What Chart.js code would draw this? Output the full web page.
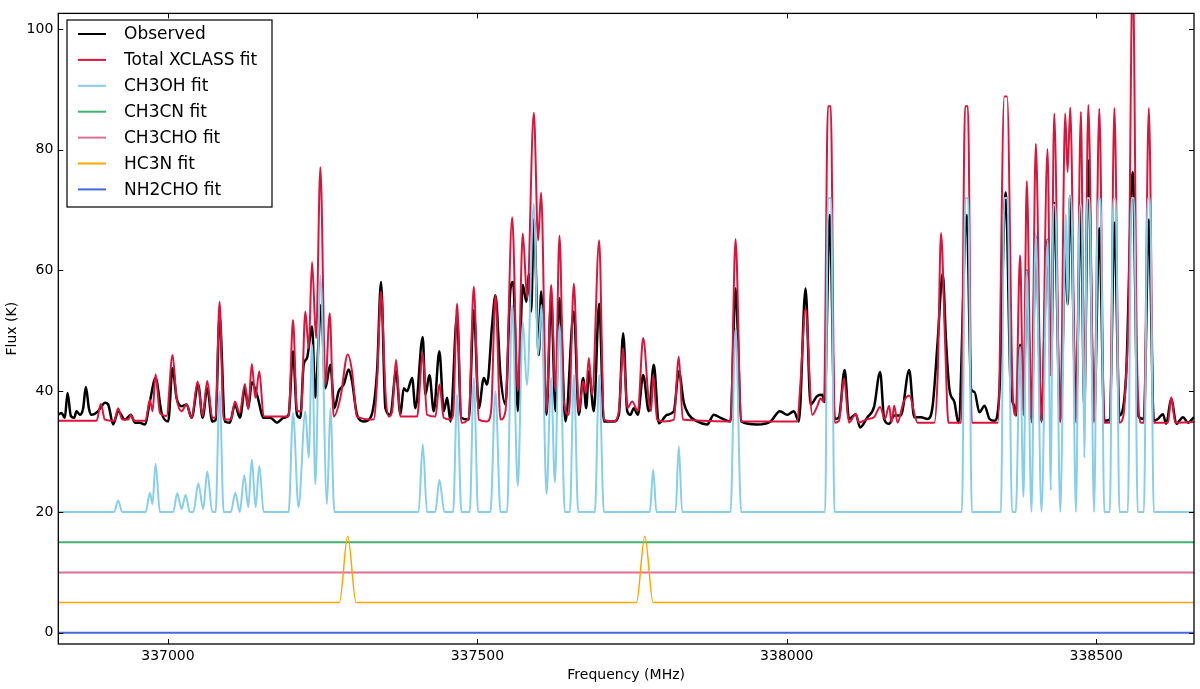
<!DOCTYPE html>
<html>
<head>
<meta charset="utf-8">
<title>XCLASS fit</title>
<script src="https://cdn.jsdelivr.net/npm/chart.js@4.4.0/dist/chart.umd.min.js"></script>
<style>
  html, body { margin: 0; padding: 0; background: #fff; }
  #wrap { width: 1200px; height: 689px; }
</style>
</head>
<body>
<div id="wrap"><canvas id="spectrum"></canvas></div>
<script>
// axis ticks and ranges
const xTicks = [337000, 337500, 338000, 338500];
const yTicks = [0, 20, 40, 60, 80, 100];
const xMin = 336822.8, xMax = 338658;
const yMin = -1.86, yMax = 102.57;

const seriesNames = ['Observed', 'Total XCLASS fit', 'CH3OH fit', 'CH3CN fit', 'CH3CHO fit', 'HC3N fit', 'NH2CHO fit'];
const seriesColors = ['#000000', '#dc143c', '#87ceeb', '#3cb371', '#db7093', '#ffa500', '#4169e1'];

// [frequency MHz, flux K]
const observedSpec = [
  [336822.8,36.1],[336828,36.4],[336833.4,35.6],[336837.7,39.7],[336843.1,35.9],[336848.5,35.6],[336852.2,36.7],[336857.6,36.1],
  [336863,37.2],[336867.3,40.7],[336872.2,37.2],[336876.5,36.1],[336887.3,36.7],[336892.7,37.5],[336898,38.1],[336903.4,37.8],
  [336911.5,34.5],[336919.6,36.7],[336930.4,35.3],[336940.1,36.1],[336946.6,34.8],[336954.6,34.8],[336962.7,34.5],[336970.8,38.3],
  [336980,42.2],[336989.7,36.4],[337000.4,35.0],[337007.4,43.8],[337013.9,38.9],[337022,37.5],[337030.1,37.8],[337038.2,35.6],
  [337048.9,41.1],[337056,35.6],[337063.5,40.5],[337071.6,35.0],[337077,35.2],[337083.4,52.6],[337092,35.0],[337100.1,34.8],
  [337108.2,37.8],[337116.3,35.6],[337124.4,40.5],[337129.8,37.2],[337135.5,41.5],[337143.9,39.4],[337154.7,35.6],[337165.4,35.6],
  [337176.2,34.8],[337187,35.6],[337195,36.1],[337202.1,46.6],[337208.5,36.1],[337213.9,35.6],[337219.3,44.4],[337224.7,45.5],
  [337232.8,50.7],[337238.2,38.9],[337243.6,48.8],[337247.3,54.3],[337254.4,40.5],[337262.4,44.4],[337268.9,37.2],[337275.9,40.0],
  [337284,41.1],[337292.1,43.6],[337297.5,41.6],[337305.5,36.1],[337316.3,35.0],[337327.1,35.6],[337337.9,43.3],[337344.3,58.1],
  [337351.4,37.2],[337359.4,36.1],[337368.6,43.3],[337375.6,36.1],[337381,40.5],[337386.4,40.0],[337394.5,42.2],[337399.9,37.2],
  [337411.7,49.0],[337416,39.4],[337422.5,42.7],[337429.5,36.7],[337438.6,46.6],[337445.7,36.7],[337451.1,38.9],[337456.5,35.0],
  [337467.2,52.6],[337473.7,35.6],[337486.1,35.3],[337494.2,53.4],[337502.3,37.2],[337510.4,42.2],[337515.7,41.1],[337523.8,51.0],
  [337529.2,55.9],[337537.3,42.7],[337545.4,37.8],[337553.5,57.0],[337557.8,58.1],[337565.3,36.7],[337573.4,57.6],[337579.3,54.8],
  [337583.1,59.5],[337586.9,53.2],[337591.2,68.5],[337599.3,46.0],[337603,56.5],[337611.7,36.1],[337619.2,55.4],[337626.2,36.7],
  [337632.7,55.4],[337642.4,35.0],[337655.9,53.2],[337663.9,36.1],[337670.9,42.2],[337675.8,37.2],[337680.1,43.3],[337688.2,36.7],
  [337696.8,54.5],[337704.4,35.0],[337720.5,35.0],[337728.6,36.1],[337735.6,49.6],[337742.1,36.7],[337747.4,36.1],[337752.8,37.2],
  [337759.3,36.1],[337767.9,42.7],[337777,36.7],[337785.1,44.4],[337793.2,34.7],[337806.7,36.1],[337817.5,36.7],[337825.5,43.3],
  [337833.6,38.1],[337841.7,36.1],[337855.2,35.0],[337871.3,34.5],[337882.1,36.1],[337892.9,35.6],[337909,35.0],[337917.2,57.0],
  [337926.3,35.0],[337952.2,34.5],[337973.7,35.0],[337988.8,36.7],[338000.7,36.1],[338011.5,36.7],[338019.5,35.0],[338030.3,57.0],
  [338038.4,37.8],[338049.2,39.2],[338057.3,39.4],[338061,38.2],[338069.5,69.2],[338077.3,35.4],[338084.3,35.7],[338093.5,43.5],
  [338100.5,35.4],[338111.4,36.2],[338118.4,34.0],[338130.3,35.7],[338141,37.4],[338150.8,43.2],[338157.3,35.4],[338165.4,34.6],
  [338173.5,36.0],[338184.3,36.0],[338197.8,43.5],[338205.9,35.7],[338216.8,35.7],[338227.6,35.4],[338235.7,37.6],[338243.8,48.3],
  [338251.9,59.5],[338257.3,48.3],[338262.7,40.4],[338270.8,38.2],[338277.3,34.8],[338290.8,69.2],[338297.8,40.4],[338303.2,39.9],
  [338311.3,36.5],[338319.5,37.6],[338327.6,35.4],[338335.7,35.1],[338343.8,40.4],[338353.7,72.9],[338361.8,40.4],[338367.2,37.6],
  [338370.5,36.0],[338377,47.7],[338382.4,37.1],[338387.8,60.0],[338395.3,35.4],[338402.4,65.6],[338411.5,35.1],[338421.3,65.1],
  [338426.7,42.7],[338432.1,71.2],[338441.8,35.1],[338451,63.9],[338453.7,54.4],[338458,72.3],[338467.2,37.6],[338475.3,70.6],
  [338480.7,37.6],[338487.2,78.2],[338496.5,35.1],[338505,67.0],[338513,35.1],[338522,35.3],[338529.4,67.9],[338537.5,36.0],
  [338548.3,42.7],[338559.1,76.3],[338567,36.0],[338577,35.4],[338585,68.4],[338593,35.1],[338599.6,35.4],[338607.7,36.2],
  [338613.1,34.6],[338621.3,38.8],[338629.4,34.6],[338640.2,35.7],[338648.3,34.8],[338658,35.7]
];

const totalFit = [
  [336822.8,35.1],[336884.6,35.1],[336891.6,37.9],[336898,35.3],[336913,35.1],[336919.6,37.2],[336926,35.3],[336935.8,35.3],
  [336940.1,36.1],[336945.5,35.1],[336963.8,35.1],[336970.8,38.6],[336975.1,36.7],[336980,42.8],[336987,36.4],[336997.7,35.9],
  [337007.4,46.0],[337013.9,38.9],[337022,36.7],[337030.1,37.8],[337038.2,35.6],[337047.9,41.6],[337056,35.9],[337063.5,41.7],
  [337071.6,35.6],[337077,35.6],[337083.4,54.8],[337089.9,35.3],[337101.8,35.3],[337108.2,38.3],[337115.8,36.4],[337124.4,41.2],
  [337129.8,37.0],[337135.5,44.5],[337141.2,38.9],[337147.6,43.3],[337154.7,35.8],[337195,35.8],[337202.1,51.8],[337208.5,36.7],
  [337215,36.7],[337222,53.2],[337227.4,47.1],[337232.8,61.4],[337239.3,48.8],[337246.3,77.1],[337254.4,41],[337261.4,52.9],
  [337267.8,35.8],[337278.6,38.9],[337290.5,46.1],[337297.5,43.3],[337305.5,35.8],[337332.5,35.3],[337337.9,41.6],[337344.3,56.5],
  [337351.4,40.0],[337356.7,35.8],[337362.1,36.6],[337368.6,45.2],[337375.6,35.8],[337402.6,35.8],[337411.7,46.3],[337418.7,36.1],
  [337432.2,35.8],[337438.6,41.1],[337445.7,35.6],[337456.5,35.3],[337460.8,36.1],[337467.2,54.5],[337474.2,34.8],[337486.1,35.6],
  [337494.2,57.3],[337502.3,35.3],[337515.7,35.0],[337522.2,36.7],[337529.2,55.9],[337537.3,35.3],[337545.4,36.7],[337556.2,68.8],
  [337565.3,40.0],[337573.4,66.1],[337580.4,55.4],[337591.2,86.1],[337598.2,65.0],[337603,72.9],[337611.7,36.7],[337619.2,57.6],
  [337626.2,40.0],[337632.7,65.8],[337639.7,38.3],[337647.8,36.1],[337655.9,57.8],[337663.9,36.7],[337670.9,41.6],[337675.3,39.7],
  [337680.1,45.5],[337685.5,39.4],[337696.8,65.0],[337704.4,35.3],[337720.5,35.0],[337728.6,36.7],[337735.6,47.1],[337742.1,37.2],
  [337750.2,38.3],[337759.3,36.7],[337767.9,48.8],[337777,38.3],[337780.8,36.7],[337784,42.7],[337790.5,35.3],[337801.3,35.0],
  [337817.5,35.3],[337825.5,45.7],[337832,35.3],[337909,35.0],[337917.2,65.2],[337926.3,35.0],[338016.9,35.0],[338022.2,41.6],
  [338030.3,53.7],[338041.1,36.1],[338049.2,37.5],[338054.6,38.8],[338060,38.2],[338066.5,87.2],[338071,87.2],[338077.3,34.8],
  [338084.3,35.1],[338092.4,42.1],[338100.5,34.8],[338111.4,36.2],[338116.8,34.8],[338130.3,35.4],[338141,35.7],[338150.8,37.4],
  [338158.4,35.4],[338165.4,37.6],[338169.2,34.8],[338173.5,37.6],[338178.9,34.8],[338188.6,38.2],[338197.8,39.3],[338211.3,34.8],
  [338238.4,34.8],[338243.8,42.7],[338249.2,66.2],[338255.7,48.3],[338261.1,34.8],[338281.6,34.8],[338288.1,87.2],[338292.6,87.2],
  [338298.9,34.8],[338341,34.8],[338351.5,88.8],[338356,88.8],[338365,39.9],[338369.9,36],[338377,62.5],[338382.4,36],
  [338387.8,74.8],[338395.3,34.8],[338402.4,81.0],[338411.5,34.8],[338421.3,80.1],[338426.7,42.7],[338432.1,86.0],[338441.8,34.8],
  [338449.9,86.0],[338453.7,76.3],[338458,87.0],[338467.2,34.8],[338475.3,86.3],[338480.7,37.6],[338487.2,87.4],[338496.5,34.8],
  [338505,86.8],[338513,34.8],[338522,34.8],[338529.4,86.9],[338537.5,34.8],[338544,36],[338548.3,42.7],[338552,52],
  [338559,110],[338566,45],[338572.6,34.8],[338577,34.8],[338585,86.9],[338593,34.8],[338615.9,34.8],[338621.3,39.0],
  [338627.7,34.8],[338658,34.9]
];

const ch3ohFit = [
  [336822.8,20],[336913,20],[336919.6,21.9],[336926,20],[336964,20],[336970.8,23.2],[336975,21.3],[336980,28.0],
  [336987,20],[337008.5,20],[337015,23.1],[337022,20.5],[337028.5,22.8],[337035.5,20],[337041,20],[337049,24.7],
  [337057,20.5],[337063.5,26.7],[337071.6,20],[337077,20],[337083.4,40],[337090,20],[337101.7,20],[337108.8,23.2],
  [337116,20],[337123.3,26.1],[337129.8,20.8],[337135.5,28.7],[337141.6,20.8],[337147.6,27.6],[337154.7,20],[337195,20],
  [337202.1,36.4],[337211,20.8],[337222,36.7],[337227.4,29.0],[337232.8,47.7],[337238.2,24.6],[337246.3,59.2],[337257,21.3],
  [337262.4,37.2],[337269,20],[337405,20],[337411.7,31.2],[337418.7,20],[337432,20],[337438.6,25.3],[337446.8,20],
  [337460.8,20],[337467.2,39.4],[337474.2,20],[337487.7,20],[337494.2,42.2],[337501.2,20],[337521.1,20],[337529.2,40.0],
  [337537.3,20],[337548,20],[337556.2,54.3],[337565.3,24.3],[337573.4,51.5],[337580,41],[337591.2,71.0],[337598.2,46.0],
  [337603.6,54.3],[337611.7,23.0],[337619.2,42.2],[337625.1,24.9],[337632.7,51.0],[337641.3,20],[337649.4,20],[337655.9,42.7],
  [337662.9,20],[337689.8,20],[337696.8,42.7],[337704.4,20],[337778.7,20],[337784,27.0],[337789.4,20],[337820.2,20],
  [337825.5,30.9],[337830.9,20],[337909,20],[337917.2,50.4],[337926.3,20],[338062,20],[338066.5,72],[338071.5,72],
  [338077,20],[338283,20],[338288.5,72],[338293,72],[338299,20],[338346,20],[338351.5,72],[338356.5,72],
  [338364,20],[338370,20],[338377,47.4],[338382.4,22.5],[338387.8,60.0],[338395.3,20],[338402.4,66.2],[338411.5,20],
  [338421.3,65.1],[338426.7,23.6],[338430.5,70.9],[338434,70.9],[338441.8,20],[338451,69.3],[338453.7,54.2],[338456.5,72.3],
  [338459.5,72.3],[338467.2,20],[338473.5,70.8],[338476.5,70.8],[338480.7,29],[338485.5,72],[338489,72],[338496.5,20],
  [338503,71.8],[338507,71.8],[338513,20],[338522,20],[338527.5,71.8],[338531.5,71.8],[338537.5,20],[338551,20],
  [338557,72],[338561,72],[338567,20],[338577,20],[338583,71.9],[338587,71.9],[338593,20],[338658,20]
];

const ch3cnFit = [[336822.8,15],[338658,15]];
const ch3choFit = [[336822.8,10],[338658,10]];
const hc3nFit = [
  [336822.8,5],[337277,5],[337290.5,16],[337304,5],[337757,5],[337770.6,16],[337784,5],[338658,5]
];
const nh2choFit = [[336822.8,0],[338658,0]];

const seriesData = [observedSpec, totalFit, ch3ohFit, ch3cnFit, ch3choFit, hc3nFit, nh2choFit];
const seriesWidths = [2.5, 2, 2, 2, 2, 1.5, 2];

const baseFont = { family: 'DejaVu Sans', size: 14 };

// box, inward ticks and the legend, drawn over the lines
const frameAndLegend = {
  id: 'frameAndLegend',
  afterDatasetsDraw(chart) {
    const { ctx, chartArea: a, scales: { x, y } } = chart;
    ctx.save();
    ctx.strokeStyle = '#000';
    ctx.lineWidth = 1;
    ctx.beginPath();
    xTicks.forEach(v => {
      const px = Math.round(x.getPixelForValue(v)) + 0.5;
      ctx.moveTo(px, a.bottom); ctx.lineTo(px, a.bottom - 5);
      ctx.moveTo(px, a.top); ctx.lineTo(px, a.top + 5);
    });
    yTicks.forEach(v => {
      const py = Math.round(y.getPixelForValue(v)) + 0.5;
      ctx.moveTo(a.left, py); ctx.lineTo(a.left + 5, py);
      ctx.moveTo(a.right, py); ctx.lineTo(a.right - 5, py);
    });
    ctx.stroke();
    ctx.lineWidth = 1.3;
    ctx.strokeRect(a.left, a.top, a.right - a.left, a.bottom - a.top);

    // legend box
    ctx.fillStyle = '#fff';
    ctx.fillRect(67, 20, 205, 187);
    ctx.lineWidth = 1.2;
    ctx.strokeRect(67, 20, 205, 187);
    ctx.font = '17px "DejaVu Sans"';
    ctx.textBaseline = 'middle';
    seriesNames.forEach((name, i) => {
      const ly = 34 + i * 25.9;
      ctx.strokeStyle = seriesColors[i];
      ctx.lineWidth = 2;
      ctx.beginPath();
      ctx.moveTo(78, ly); ctx.lineTo(106, ly);
      ctx.stroke();
      ctx.fillStyle = '#000';
      ctx.fillText(name, 124, ly + 1);
    });
    ctx.restore();
  }
};

// first dataset is drawn on top, so list them back to front
const datasets = seriesNames.map((name, i) => ({
  label: name,
  data: seriesData[i],
  borderColor: seriesColors[i],
  borderWidth: seriesWidths[i],
  pointRadius: 0,
  fill: false
})).reverse();

new Chart(document.getElementById('spectrum'), {
  type: 'line',
  data: { datasets },
  options: {
    responsive: true,
    maintainAspectRatio: false,
    animation: false,
    layout: { padding: { top: 10, right: 6, left: 0, bottom: 0 } },
    elements: { line: { cubicInterpolationMode: 'monotone', borderJoinStyle: 'round' } },
    plugins: { legend: { display: false }, tooltip: { enabled: false } },
    scales: {
      x: {
        type: 'linear',
        min: xMin,
        max: xMax,
        grid: { display: false, drawTicks: false },
        border: { display: false },
        afterBuildTicks: s => { s.ticks = xTicks.map(v => ({ value: v })); },
        afterFit: s => { s.height = 45; },
        ticks: { padding: 4, color: '#000', font: baseFont, maxRotation: 0, autoSkip: false, callback: v => String(v) },
        title: { display: true, text: 'Frequency (MHz)', color: '#000', font: baseFont, padding: { top: 5, bottom: 5 } }
      },
      y: {
        type: 'linear',
        min: yMin,
        max: yMax,
        grid: { display: false, drawTicks: false },
        border: { display: false },
        afterBuildTicks: s => { s.ticks = yTicks.map(v => ({ value: v })); },
        afterFit: s => { s.width = 58.3; },
        ticks: { padding: 5, color: '#000', font: baseFont, callback: v => String(v) },
        title: { display: true, text: 'Flux (K)', color: '#000', font: baseFont, padding: { top: 4, bottom: 4 } }
      }
    }
  },
  plugins: [frameAndLegend]
});
</script>
</body>
</html>
